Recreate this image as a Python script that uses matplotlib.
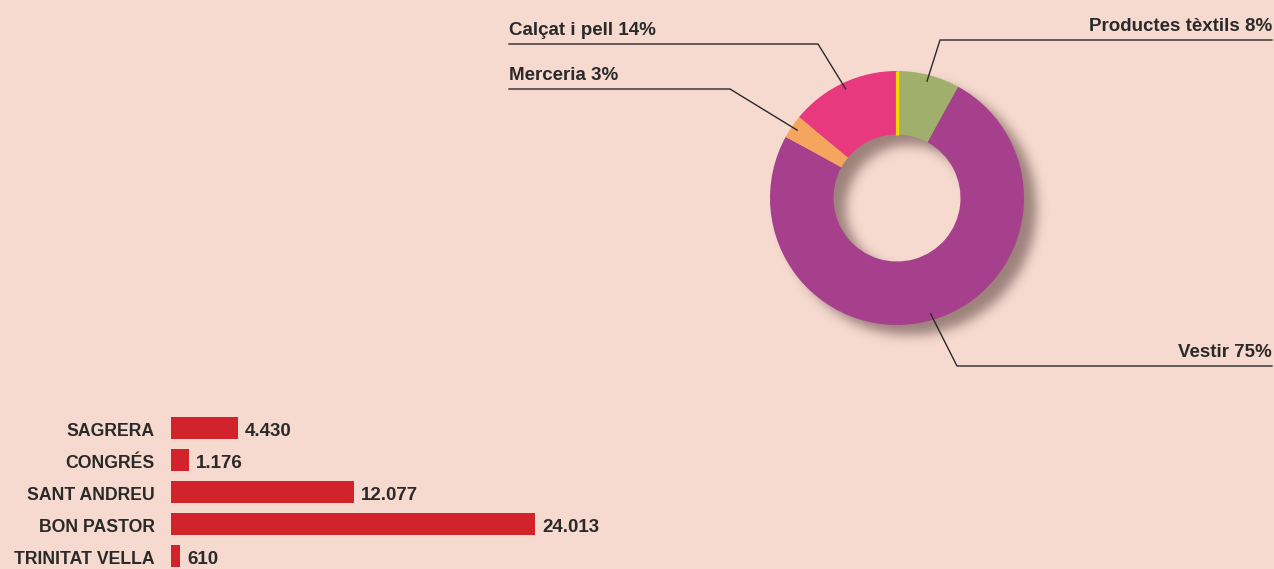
import numpy as np
import matplotlib
matplotlib.use("Agg")
import matplotlib.pyplot as plt
from matplotlib.lines import Line2D
from matplotlib import font_manager

# ---------------- data ----------------
pie_labels = ["Productes tèxtils", "Vestir", "Merceria", "Calçat i pell"]
pie_values = [8, 75, 3, 14]
pie_colors = ["#A0B06C", "#A63F8C", "#F5A55E", "#E8387E"]

bar_categories = ["SAGRERA", "CONGRÉS", "SANT ANDREU", "BON PASTOR", "TRINITAT VELLA"]
bar_values = [4430, 1176, 12077, 24013, 610]
bar_value_labels = ["4.430", "1.176", "12.077", "24.013", "610"]

# ---------------- style ----------------
W, H = 1274, 569
BG = "#F6DACF"
TXT = "#2A2A2A"
names = {f.name for f in font_manager.fontManager.ttflist}
FONT = ["Liberation Sans Narrow"] if "Liberation Sans Narrow" in names else ["Liberation Sans"]
plt.rcParams["font.family"] = FONT + ["DejaVu Sans"]

fig = plt.figure(figsize=(W / 100, H / 100), dpi=100, facecolor=BG)


def fx(x):
    return x / W


def fy(y):
    return 1 - y / H


# ---------------- donut ----------------
cx, cy, R = 897, 198, 127
LIM = 1.45
side = 2 * LIM * R
axp = fig.add_axes([fx(cx - side / 2), fy(cy + side / 2), side / W, side / H])
axp.set_xlim(-LIM, LIM)
axp.set_ylim(-LIM, LIM)
axp.set_aspect("equal")
axp.axis("off")

# soft drop shadow (style only)
n = 360
g = np.linspace(-LIM, LIM, n)
X, Y = np.meshgrid(g, g)
offx, offy = 0.095, -0.085
rr = np.hypot(X - offx, Y - offy)
mask = ((rr <= 1.0) & (rr >= 0.5)).astype(float)
step_px = (2 * LIM * R) / n
sig = 5.5 / step_px
half = int(3 * sig)
k = np.exp(-0.5 * (np.arange(-half, half + 1) / sig) ** 2)
k /= k.sum()
pad = np.pad(mask, half, mode="constant")
blur = np.apply_along_axis(lambda v: np.convolve(v, k, mode="same"), 0, pad)
blur = np.apply_along_axis(lambda v: np.convolve(v, k, mode="same"), 1, blur)
blur = blur[half:-half, half:-half]
rgba = np.zeros((n, n, 4))
rgba[..., 0] = 0.40
rgba[..., 1] = 0.30
rgba[..., 2] = 0.29
rgba[..., 3] = np.clip(blur * 0.62, 0, 1)
axp.imshow(rgba, extent=(-LIM, LIM, -LIM, LIM), origin="lower", zorder=0, interpolation="bilinear")

wedges, _ = axp.pie(pie_values, colors=pie_colors, startangle=90, counterclock=False,
                    radius=1.0, wedgeprops=dict(width=0.5, linewidth=0), center=(0, 0))
for w in wedges:
    w.set_zorder(2)
axp.set_xlim(-LIM, LIM)
axp.set_ylim(-LIM, LIM)
# yellow divider at top
axp.plot([0, 0], [0.5, 1.0], color="#FFD500", lw=2.3, zorder=3, solid_capstyle="butt")

# leader lines + labels
label_spec = {
    "Productes tèxtils": ((940, 40), (1272, 40), "right"),
    "Vestir": ((957, 366), (1272, 366), "right"),
    "Merceria": ((730, 89), (509, 89), "left"),
    "Calçat i pell": ((818, 44), (509, 44), "left"),
}
cum = 0.0
total = sum(pie_values)
for name, v in zip(pie_labels, pie_values):
    mid = (cum + v / 2) / total
    cum += v
    ang = np.deg2rad(90 - 360 * mid)
    ax_, ay_ = 0.95 * np.cos(ang), 0.95 * np.sin(ang)
    px = cx + ax_ * R
    py = cy - ay_ * R
    (ex, ey), (lx, ly), side_ = label_spec[name]
    fig.add_artist(Line2D([fx(px), fx(ex), fx(lx)], [fy(py), fy(ey), fy(ly)],
                          transform=fig.transFigure, color="#2A2A2A", lw=1.0, zorder=5))
    fig.text(fx(lx), fy(ly - 5), f"{name} {v}%", ha=side_, va="bottom",
             fontsize=13.5, fontweight="bold", color=TXT)

# ---------------- bars ----------------
bx0, btop, bbot = 171, 412, 569
px_per_unit = 364 / 24013
bw = 420
axb = fig.add_axes([fx(bx0), fy(bbot), bw / W, (bbot - btop) / H])
axb.set_facecolor("none")
ypos = np.arange(len(bar_categories))
axb.barh(ypos, bar_values, height=22 / 32, color="#D2232A", linewidth=0)
axb.set_xlim(0, bw / px_per_unit)
axb.set_ylim((bbot - 428) / 32, (btop - 428) / 32)
for s in axb.spines.values():
    s.set_visible(False)
axb.set_xticks([])
axb.set_yticks([])
for yv, v, lab, cat in zip(ypos, bar_values, bar_value_labels, bar_categories):
    axb.annotate(cat, (0, yv), xytext=(-16, -3), textcoords="offset pixels",
                 ha="right", va="center", fontsize=12.7, fontweight="bold", color=TXT,
                 annotation_clip=False)
    axb.annotate(lab, (v, yv), xytext=(7, -3), textcoords="offset pixels",
                 ha="left", va="center", fontsize=13.5, fontweight="bold", color=TXT)

fig.savefig("out.png", dpi=100, facecolor=BG)
